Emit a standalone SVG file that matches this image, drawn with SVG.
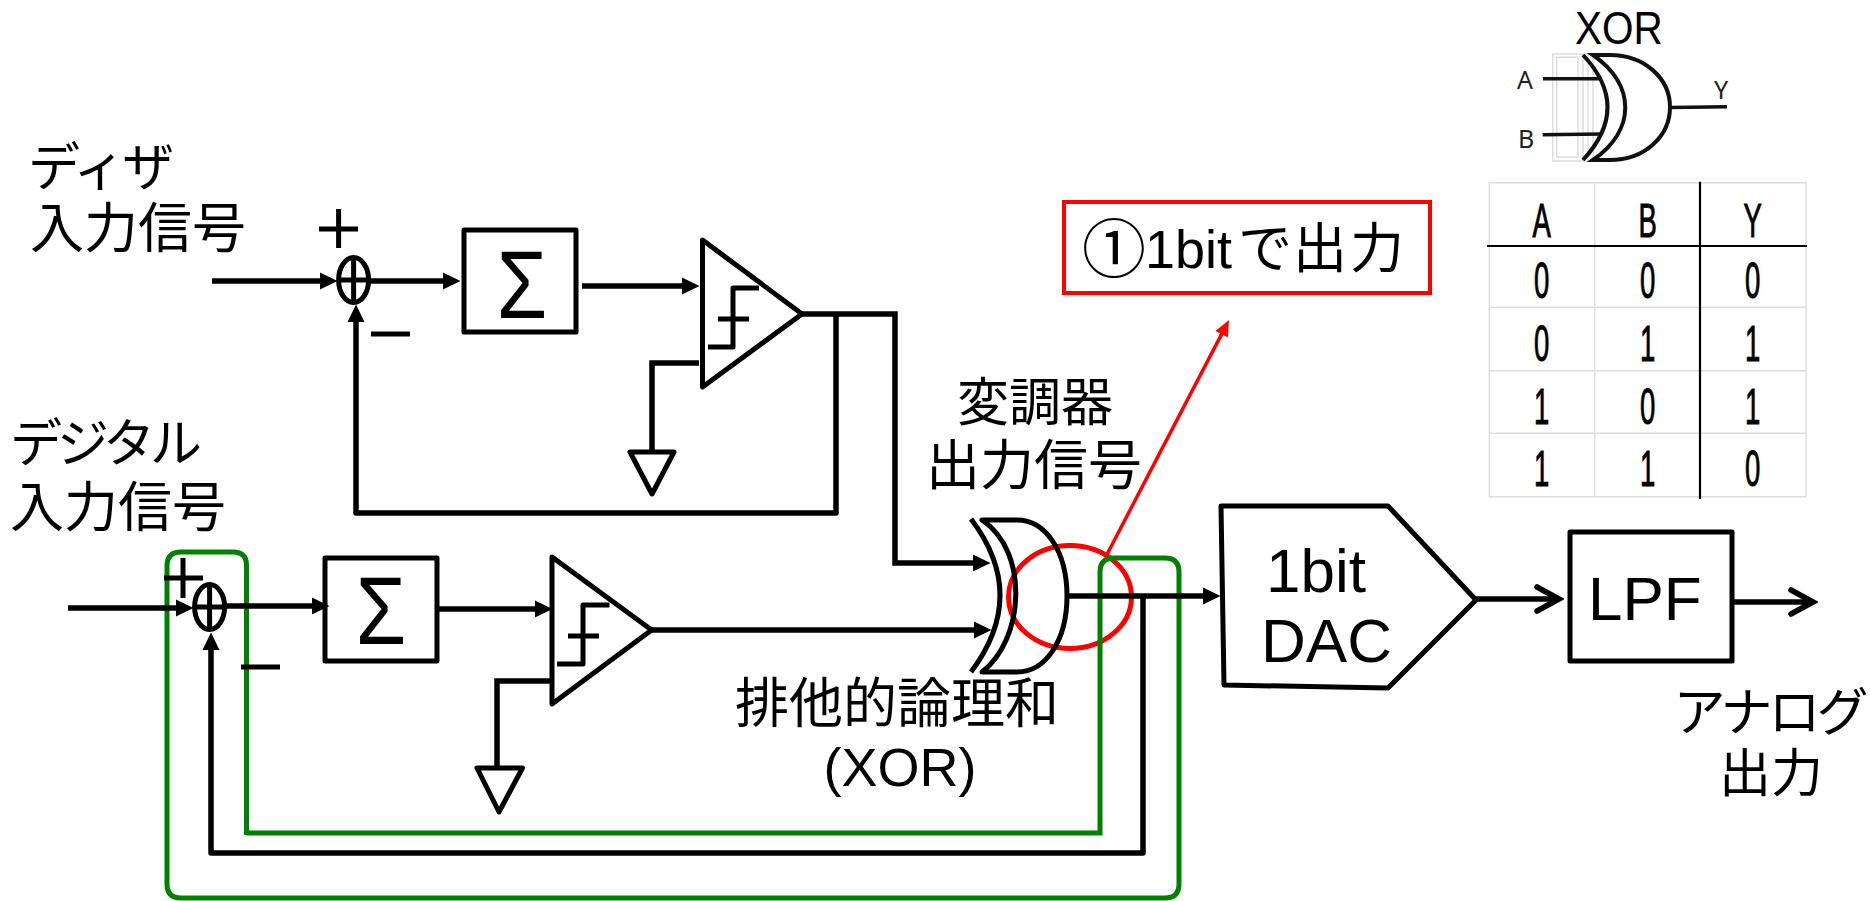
<svg xmlns="http://www.w3.org/2000/svg" width="1870" height="901" viewBox="0 0 1870 901">
<style>
text{font-family:"Liberation Sans","Noto Sans CJK JP",sans-serif;fill:#000}
.t52{font-size:52px}
.t54{font-size:54px}
.t62{font-size:62px}
.mid{text-anchor:middle}
.k{fill:none;stroke:#000;stroke-width:5;stroke-linejoin:round}
.c{fill:none;stroke:#000;stroke-width:5.5}
.sig{font-size:96px}
.g{fill:none;stroke:#008000;stroke-width:5}
.r{fill:none;stroke:#f00}
.pin{fill:none;stroke:#111;stroke-width:3.5}
.gate{fill:none;stroke:#111;stroke-width:4}
.ghost{fill:none;stroke:#ddd;stroke-width:1.5}
.grid{fill:none;stroke:#ddd;stroke-width:1.5}
.rule{fill:none;stroke:#000;stroke-width:2.2}
.lbl{font-size:25px;font-family:"Noto Sans",sans-serif;fill:#222}
.tt{font-size:50px;text-anchor:middle;stroke:#000;stroke-width:1}
</style>
<defs>
<marker id="ah" markerUnits="userSpaceOnUse" markerWidth="18" markerHeight="18" refX="9" refY="9" orient="auto"><path d="M0 0.5L17.5 9L0 17.5Z" fill="#000"/></marker>
<marker id="open" markerUnits="userSpaceOnUse" markerWidth="32" markerHeight="36" refX="27" refY="18" orient="auto"><path d="M5 6L27 18L5 30" fill="none" stroke="#000" stroke-width="5.5" stroke-linecap="round" stroke-linejoin="miter"/></marker>
<marker id="ahr" markerUnits="userSpaceOnUse" markerWidth="18" markerHeight="16" refX="8" refY="8" orient="auto"><path d="M0 1L16 8L0 15Z" fill="#f00"/></marker>
</defs>

<g id="highlight">
<ellipse cx="1070" cy="597" rx="61.5" ry="51.5" class="r" stroke-width="5"/>
</g>

<g id="connectors">
<line class="r" stroke-width="3.5" x1="1106.7" y1="555" x2="1225.3" y2="327.1" marker-end="url(#ahr)"/>
<path class="g" d="M246.5 835V565Q246.5 552 233 552H181Q167 552 167 566V884Q167 898 181 898H1165Q1179 898 1179 884V572Q1179 558 1165 558H1114Q1100 558 1100 572V833H246.5"/>
<g class="c">
<path d="M212 281H329" marker-end="url(#ah)"/>
<path d="M368 281H452" marker-end="url(#ah)"/>
<path d="M582 286H691" marker-end="url(#ah)"/>
<path d="M836 314V513H356V313" marker-end="url(#ah)" stroke-linejoin="round"/>
<path d="M802 314H895V563H982" marker-end="url(#ah)"/>
<path d="M699 363H652V452"/>
<path d="M68 608H185" marker-end="url(#ah)"/>
<path d="M225 606H321" marker-end="url(#ah)"/>
<path d="M437 609H544" marker-end="url(#ah)"/>
<path d="M550 681H497V768"/>
<path d="M652 630H983" marker-end="url(#ah)"/>
<path d="M1143 596V853H211V641" marker-end="url(#ah)" stroke-linejoin="round"/>
<path d="M1067 596H1212" marker-end="url(#ah)"/>
<path d="M1476 599H1559" marker-end="url(#open)"/>
<path d="M1732 602H1813" marker-end="url(#open)"/>
</g>
</g>

<g id="dither-input-label">
<text class="t52" x="28" y="186" letter-spacing="-3">ディザ</text>
<text class="t54" x="30" y="248">入力信号</text>
</g>
<g id="digital-input-label">
<text class="t52" x="10" y="462" letter-spacing="-5">デジタル</text>
<text class="t54" x="10" y="527">入力信号</text>
</g>

<g id="sum-top">
<ellipse class="k" cx="353.6" cy="280" rx="15" ry="22.5"/>
<path class="k" d="M338 280H369M353.6 258V302"/>
<path class="k" d="M338.6 209V248M319 229H358M371 334H410"/>
</g>
<g id="integrator-top">
<rect class="k" x="464" y="230" width="112" height="102"/>
<text class="sig mid" transform="translate(522 318) scale(.85 1)">Σ</text>
</g>
<g id="comparator-top">
<path class="k" d="M702.5 240L802 314L702.5 387Z"/>
<path class="k" d="M759 288H733V347H708M718 319H749"/>
</g>
<g id="ground-top"><path class="k" d="M630 452H674L652 494Z"/></g>

<g id="sum-bottom">
<ellipse class="k" cx="209.6" cy="607" rx="15" ry="22.5"/>
<path class="k" d="M194 607H225M209.6 585V629"/>
<path class="k" d="M183 558V598M164 578H203M241 667H280"/>
</g>
<g id="integrator-bottom">
<rect class="k" x="325" y="558" width="112" height="103"/>
<text class="sig mid" transform="translate(381 644) scale(.85 1)">Σ</text>
</g>
<g id="comparator-bottom">
<path class="k" d="M552 557L651.6 630L552 704Z"/>
<path class="k" d="M609.5 605H583V664H557M568 636H599"/>
</g>
<g id="ground-bottom"><path class="k" d="M477 768H522.5L499 812Z"/></g>

<g id="xor-gate">
<path class="k" d="M971 519Q1029 595 971 672"/>
<path class="k" d="M982 520H1017C1046 520 1067 552 1067 596C1067 640 1046 672 1017 672H982C1024 640 1030 552 982 520Z"/>
</g>
<g id="modulator-label" class="mid">
<text class="t52" x="1035" y="421">変調器</text>
<text class="t54" x="1034" y="485">出力信号</text>
</g>
<g id="xor-label" class="mid">
<text class="t54" x="897" y="723">排他的論理和</text>
<text class="t54" x="900" y="786">(XOR)</text>
</g>

<g id="note">
<rect x="1064" y="202" width="366" height="91" fill="none" stroke="#f00" stroke-width="4"/>
<text y="268" font-size="54"><tspan x="1082" y="272" font-size="64">①</tspan><tspan x="1145" y="268">1bit</tspan><tspan x="1238" y="268">で</tspan><tspan x="1293" y="268" letter-spacing="3">出力</tspan></text>
</g>

<g id="dac">
<path class="k" d="M1221 506H1388L1476 600L1388 688L1224 685Z"/>
<text class="t62" x="1266" y="592">1bit</text>
<text class="t62" x="1261" y="662">DAC</text>
</g>
<g id="lpf">
<rect class="k" x="1570" y="532" width="162" height="129"/>
<text class="t62" x="1588" y="620">LPF</text>
</g>
<g id="analog-label" class="mid">
<text class="t52" x="1769" y="731" letter-spacing="-4">アナログ</text>
<text class="t52" x="1771" y="792">出力</text>
</g>

<g id="xor-symbol">
<text transform="translate(1575 44) scale(.88 1)" font-size="46">XOR</text>
<path class="ghost" d="M1552.7 54H1593V161H1552.7ZM1556.7 57.3H1578V157H1556.7ZM1583 54V161M1588 54V161"/>
<path class="pin" d="M1543 78.7H1602M1542.7 134.7L1602 134M1670 107.5L1727 106.7"/>
<path class="gate" d="M1583 55Q1632 107 1583 160"/>
<path class="gate" d="M1593 55H1610C1644 55 1670 78 1670 107C1670 137 1644 160 1610 160H1593C1636 130 1636 85 1593 55Z"/>
<text class="lbl" x="1517" y="89">A</text>
<text class="lbl" x="1518" y="148">B</text>
<text class="lbl" x="1714" y="99">Y</text>
</g>

<g id="truth-table">
<path class="grid" d="M1489.3 182.7H1806V496.7H1489.3ZM1594.7 182.7V496.7M1489.3 307.3H1806M1489.3 370.7H1806M1489.3 433.3H1806"/>
<path class="rule" d="M1700 181.7V499M1487 246H1807"/>
<g>
<text class="tt" transform="translate(1541.7 237.3) scale(.55 .95)">A</text>
<text class="tt" transform="translate(1647.7 237.3) scale(.55 .95)">B</text>
<text class="tt" transform="translate(1752.7 237.3) scale(.55 .95)">Y</text>
<text class="tt" transform="translate(1541.7 298) scale(.55 1)">0</text>
<text class="tt" transform="translate(1647.7 298) scale(.55 1)">0</text>
<text class="tt" transform="translate(1752.7 298) scale(.55 1)">0</text>
<text class="tt" transform="translate(1541.7 361) scale(.55 1)">0</text>
<text class="tt" transform="translate(1647.7 361) scale(.55 1)">1</text>
<text class="tt" transform="translate(1752.7 361) scale(.55 1)">1</text>
<text class="tt" transform="translate(1541.7 424) scale(.55 1)">1</text>
<text class="tt" transform="translate(1647.7 424) scale(.55 1)">0</text>
<text class="tt" transform="translate(1752.7 424) scale(.55 1)">1</text>
<text class="tt" transform="translate(1541.7 486) scale(.55 1)">1</text>
<text class="tt" transform="translate(1647.7 486) scale(.55 1)">1</text>
<text class="tt" transform="translate(1752.7 486) scale(.55 1)">0</text>
</g>
</g>
</svg>
